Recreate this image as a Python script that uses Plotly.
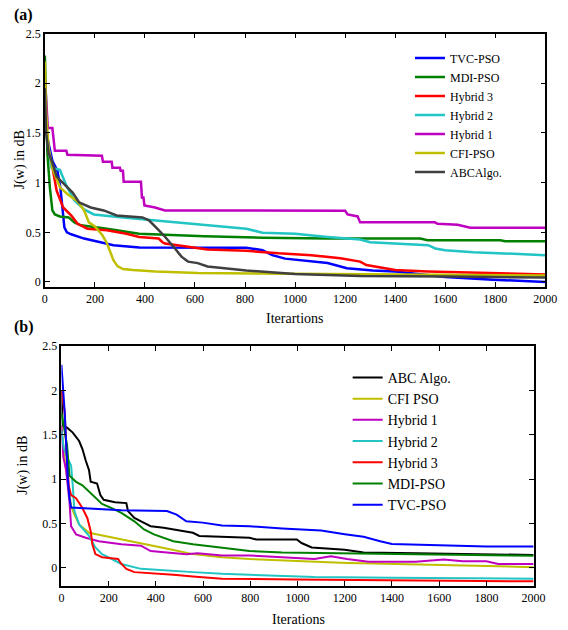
import plotly.graph_objects as go

# ---------------- data: panel (a) ----------------
A_TVC_X = [0, 10, 30, 50, 62, 70, 78, 88, 105, 157, 222, 274, 377, 611, 805, 870, 909, 960, 1000, 1130, 1207, 1310, 1400, 1600, 1790, 2000]
A_TVC_Y = [1.75, 1.45, 1.22, 1.12, 0.95, 0.72, 0.55, 0.50, 0.48, 0.437, 0.40, 0.37, 0.347, 0.345, 0.345, 0.32, 0.27, 0.235, 0.225, 0.19, 0.139, 0.116, 0.106, 0.05, 0.023, 0.0]

A_MDI_X = [0, 5, 10, 20, 30, 40, 60, 95, 118, 144, 248, 377, 637, 870, 1130, 1500, 1530, 1820, 1840, 2000]
A_MDI_Y = [2.28, 1.7, 1.3, 0.95, 0.72, 0.68, 0.66, 0.65, 0.60, 0.57, 0.536, 0.486, 0.46, 0.446, 0.437, 0.437, 0.42, 0.42, 0.41, 0.41]

A_H3_X = [0, 5, 15, 27, 47, 73, 105, 131, 170, 248, 326, 377, 455, 470, 480, 533, 650, 805, 934, 1065, 1181, 1260, 1285, 1400, 1530, 2000]
A_H3_Y = [1.97, 1.6, 1.3, 1.2, 0.92, 0.75, 0.67, 0.585, 0.536, 0.52, 0.486, 0.453, 0.437, 0.40, 0.387, 0.37, 0.327, 0.314, 0.288, 0.27, 0.238, 0.205, 0.17, 0.12, 0.106, 0.075]

A_H2_X = [0, 10, 27, 60, 86, 118, 157, 196, 312, 442, 611, 805, 870, 1000, 1130, 1260, 1300, 1500, 1532, 1560, 1600, 1712, 2000]
A_H2_Y = [1.75, 1.4, 1.15, 1.13, 0.97, 0.82, 0.73, 0.68, 0.65, 0.62, 0.585, 0.536, 0.496, 0.486, 0.453, 0.427, 0.40, 0.37, 0.37, 0.337, 0.32, 0.30, 0.27]

A_H1_X = [0, 8, 12, 30, 35, 40, 86, 90, 228, 232, 267, 270, 300, 303, 312, 315, 384, 388, 394, 398, 440, 480, 1200, 1210, 1250, 1260, 1558, 1570, 1650, 1700, 2000]
A_H1_Y = [2.05, 1.62, 1.55, 1.55, 1.40, 1.32, 1.32, 1.28, 1.27, 1.21, 1.21, 1.15, 1.15, 1.12, 1.12, 1.01, 1.01, 0.85, 0.85, 0.77, 0.75, 0.72, 0.717, 0.68, 0.66, 0.60, 0.60, 0.585, 0.575, 0.546, 0.546]

A_CFI_X = [0, 5, 15, 30, 40, 61, 92, 131, 157, 176, 200, 230, 248, 262, 274, 290, 312, 352, 442, 611, 1000, 1500, 2000]
A_CFI_Y = [2.22, 1.7, 1.35, 1.15, 1.08, 0.95, 0.88, 0.81, 0.72, 0.60, 0.56, 0.47, 0.39, 0.30, 0.22, 0.16, 0.13, 0.12, 0.106, 0.09, 0.083, 0.075, 0.065]

A_ABC_X = [0, 5, 15, 30, 47, 79, 111, 137, 183, 235, 287, 390, 416, 449, 481, 520, 546, 572, 611, 650, 676, 805, 1000, 1260, 1600, 2000]
A_ABC_Y = [1.95, 1.5, 1.3, 1.2, 1.06, 0.98, 0.90, 0.80, 0.75, 0.72, 0.67, 0.65, 0.62, 0.536, 0.453, 0.337, 0.255, 0.205, 0.19, 0.156, 0.15, 0.116, 0.08, 0.06, 0.055, 0.045]

A_NAMES = ["TVC-PSO", "MDI-PSO", "Hybrid 3", "Hybrid 2", "Hybrid 1", "CFI-PSO", "ABCAlgo."]

# ---------------- data: panel (b) ----------------
B_ABC_X = [0, 5, 24, 48, 75, 89, 103, 117, 124, 151, 165, 179, 227, 275, 282, 309, 350, 378, 433, 557, 584, 680, 797, 825, 997, 1017, 1060, 1200, 1280, 1500, 2000]
B_ABC_Y = [2.0, 1.6, 1.58, 1.525, 1.43, 1.34, 1.21, 1.10, 0.97, 0.95, 0.82, 0.767, 0.74, 0.73, 0.64, 0.563, 0.508, 0.47, 0.452, 0.396, 0.36, 0.35, 0.34, 0.32, 0.32, 0.28, 0.23, 0.205, 0.174, 0.165, 0.145]

B_CFI_X = [0, 10, 25, 41, 55, 75, 117, 186, 254, 350, 460, 557, 680, 797, 1004, 1210, 1320, 1732, 2000]
B_CFI_Y = [1.6, 1.3, 1.0, 0.7, 0.60, 0.49, 0.396, 0.36, 0.32, 0.267, 0.21, 0.155, 0.12, 0.10, 0.074, 0.056, 0.05, 0.02, 0.008]

B_H1_X = [0, 8, 20, 34, 41, 62, 103, 158, 254, 337, 378, 529, 577, 680, 797, 870, 990, 1072, 1141, 1160, 1210, 1300, 1500, 1620, 1700, 1800, 1850, 2000]
B_H1_Y = [1.6, 1.25, 1.1, 0.75, 0.47, 0.378, 0.34, 0.30, 0.267, 0.25, 0.19, 0.155, 0.165, 0.14, 0.14, 0.13, 0.11, 0.10, 0.13, 0.12, 0.10, 0.07, 0.07, 0.093, 0.075, 0.075, 0.045, 0.044]

B_H2_X = [0, 10, 27, 41, 48, 55, 75, 117, 144, 172, 213, 254, 337, 433, 557, 680, 797, 935, 1072, 1400, 2000]
B_H2_Y = [1.55, 1.35, 1.23, 1.155, 0.93, 0.64, 0.49, 0.36, 0.23, 0.155, 0.10, 0.044, -0.011, -0.03, -0.048, -0.067, -0.078, -0.093, -0.104, -0.11, -0.122]

B_H3_X = [0, 5, 14, 20, 31, 41, 62, 89, 110, 124, 131, 144, 172, 240, 254, 275, 309, 392, 474, 557, 680, 990, 2000]
B_H3_Y = [1.99, 1.93, 1.75, 1.38, 0.93, 0.82, 0.785, 0.674, 0.56, 0.414, 0.267, 0.155, 0.12, 0.10, 0.044, -0.011, -0.048, -0.067, -0.078, -0.096, -0.122, -0.13, -0.152]

B_MDI_X = [0, 10, 24, 34, 62, 89, 117, 144, 172, 213, 254, 309, 350, 392, 474, 557, 680, 797, 935, 1210, 1400, 2000]
B_MDI_Y = [1.75, 1.6, 1.38, 1.04, 0.97, 0.93, 0.86, 0.785, 0.72, 0.674, 0.62, 0.525, 0.433, 0.378, 0.30, 0.267, 0.23, 0.19, 0.174, 0.163, 0.155, 0.137]

B_TVC_X = [0, 14, 27, 34, 41, 117, 254, 447, 488, 529, 598, 680, 797, 935, 1072, 1100, 1200, 1280, 1350, 1400, 1600, 1800, 2000]
B_TVC_Y = [2.29, 1.75, 1.01, 0.79, 0.68, 0.667, 0.65, 0.64, 0.60, 0.525, 0.51, 0.478, 0.47, 0.444, 0.43, 0.42, 0.38, 0.35, 0.30, 0.27, 0.255, 0.24, 0.24]

B_NAMES = ["ABC Algo.", "CFI PSO", "Hybrid 1", "Hybrid 2", "Hybrid 3", "MDI-PSO", "TVC-PSO"]

X_TICKS = [0, 200, 400, 600, 800, 1000, 1200, 1400, 1600, 1800, 2000]
Y_TICKS = [0, 0.5, 1, 1.5, 2, 2.5]

# ---------------- styles ----------------
BLUE, GREEN, RED, CYAN, MAGENTA, YELLOW = "#0000FF", "#008000", "#FF0000", "#22C4C4", "#BF00BF", "#BFBF00"
GREY, BLACK = "#404040", "#000000"
FONT = "Liberation Serif"
W, H = 568, 630

A_SERIES = [
    (A_TVC_X, A_TVC_Y, BLUE), (A_MDI_X, A_MDI_Y, GREEN), (A_H3_X, A_H3_Y, RED),
    (A_H2_X, A_H2_Y, CYAN), (A_H1_X, A_H1_Y, MAGENTA), (A_CFI_X, A_CFI_Y, YELLOW),
    (A_ABC_X, A_ABC_Y, GREY),
]
B_SERIES = [
    (B_ABC_X, B_ABC_Y, BLACK), (B_CFI_X, B_CFI_Y, YELLOW), (B_H1_X, B_H1_Y, MAGENTA),
    (B_H2_X, B_H2_Y, CYAN), (B_H3_X, B_H3_Y, RED), (B_MDI_X, B_MDI_Y, GREEN),
    (B_TVC_X, B_TVC_Y, BLUE),
]

fig = go.Figure()
for name, (xs, ys, col) in zip(A_NAMES, A_SERIES):
    fig.add_trace(go.Scatter(x=xs, y=ys, mode="lines", name=name,
                             line=dict(color=col, width=2.5), xaxis="x", yaxis="y",
                             legend="legend"))
for name, (xs, ys, col) in zip(B_NAMES, B_SERIES):
    fig.add_trace(go.Scatter(x=xs, y=ys, mode="lines", name=name,
                             line=dict(color=col, width=2), xaxis="x2", yaxis="y2",
                             legend="legend2"))


def px_x(p):
    return p / W


def px_y(p):
    return 1 - p / H


axis_common = dict(showgrid=False, zeroline=False, showline=True, linecolor="black",
                   linewidth=1.5, mirror="ticks", ticks="inside", ticklen=5,
                   tickwidth=1.2, tickcolor="black",
                   tickfont=dict(family=FONT, size=12, color="black"))

fig.update_layout(
    width=W, height=H,
    margin=dict(l=0, r=0, t=0, b=0),
    paper_bgcolor="white", plot_bgcolor="white",
    font=dict(family=FONT, color="black"),
    xaxis=dict(domain=[px_x(43), px_x(557)], range=[0, 2000], tickvals=X_TICKS,
               anchor="y", **axis_common),
    yaxis=dict(domain=[px_y(284), px_y(27)], range=[-0.05, 2.5], tickvals=Y_TICKS,
               anchor="x", **axis_common),
    xaxis2=dict(domain=[px_x(60), px_x(545)], range=[0, 2000], tickvals=X_TICKS,
                anchor="y2", **axis_common),
    yaxis2=dict(domain=[px_y(587), px_y(344)], range=[-0.2, 2.5], tickvals=Y_TICKS,
                anchor="x2", **axis_common),
    legend=dict(x=px_x(418), y=px_y(37), xanchor="left", yanchor="top",
                bgcolor="rgba(255,255,255,0)", font=dict(family=FONT, size=12, color="black")),
    legend2=dict(x=px_x(354), y=px_y(360), xanchor="left", yanchor="top",
                 bgcolor="rgba(255,255,255,0)", font=dict(family=FONT, size=14, color="black")),
    showlegend=True,
)

annots = [
    dict(text="<b>(a)</b>", x=px_x(9), y=px_y(8), size=16, angle=0, xa="left"),
    dict(text="<b>(b)</b>", x=px_x(9), y=px_y(325), size=16, angle=0, xa="left"),
    dict(text="Iterartions", x=px_x(300), y=px_y(316), size=14, angle=0, xa="center"),
    dict(text="Iterations", x=px_x(304), y=px_y(621), size=14, angle=0, xa="center"),
    dict(text="J(w) in dB", x=px_x(17), y=px_y(155), size=14, angle=-90, xa="center"),
    dict(text="J(w) in dB", x=px_x(21), y=px_y(465), size=14, angle=-90, xa="center"),
]
for a in annots:
    fig.add_annotation(text=a["text"], x=a["x"], y=a["y"], xref="paper", yref="paper",
                       xanchor=a["xa"], yanchor="middle", showarrow=False,
                       textangle=a["angle"],
                       font=dict(family=FONT, size=a["size"], color="black"))

fig.write_html("out.html", config={"displayModeBar": False},
               post_script="document.body.style.margin='0';")
